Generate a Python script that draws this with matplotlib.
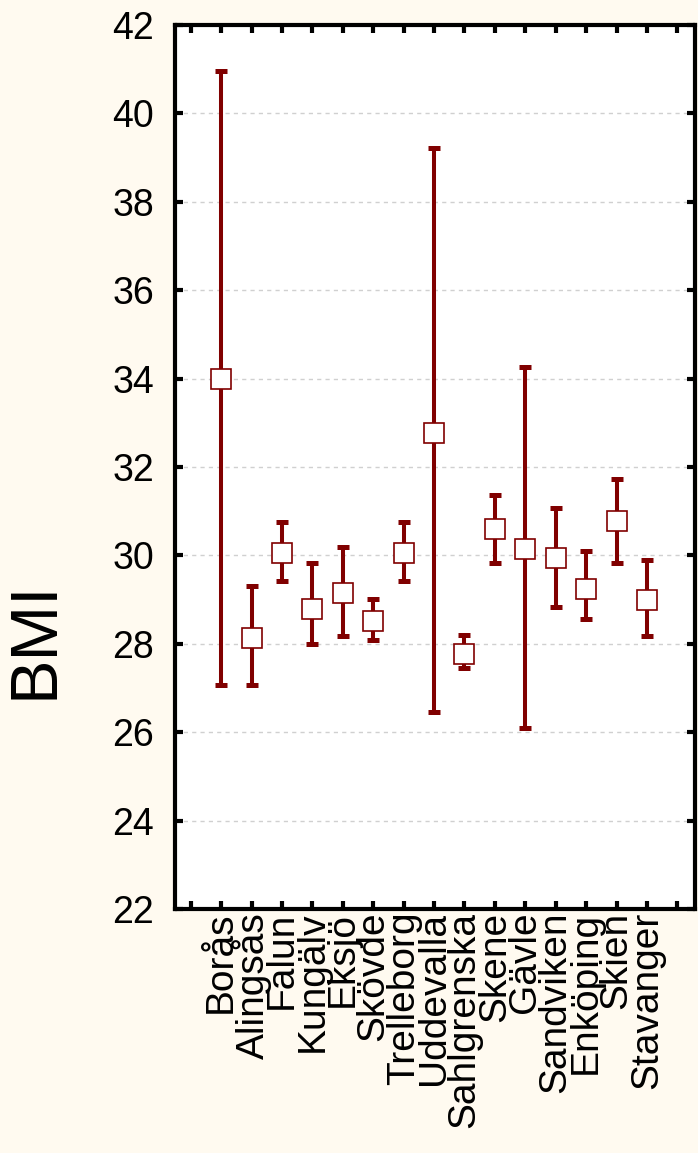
import numpy as np
import matplotlib
matplotlib.use("Agg")
import matplotlib.pyplot as plt

plt.rcParams['font.family'] = ['Liberation Sans', 'DejaVu Sans']

# data
sites = ["Borås", "Alingsås", "Falun", "Kungälv", "Eksjö", "Skövde", "Trelleborg",
         "Uddevalla", "Sahlgrenska", "Skene", "Gävle", "Sandviken", "Enköping",
         "Skien", "Stavanger"]
bmi_mean = [34.0, 28.14, 30.05, 28.79, 29.15, 28.52, 30.05, 32.78, 27.78, 30.6,
            30.14, 29.95, 29.25, 30.78, 29.0]
bmi_upper = [40.96, 29.31, 30.75, 29.82, 30.2, 29.02, 30.75, 39.22, 28.2, 31.36,
             34.27, 31.08, 30.1, 31.73, 29.9]
bmi_lower = [27.07, 27.07, 29.43, 28.0, 28.18, 28.09, 29.43, 26.46, 27.45, 29.82,
             26.09, 28.84, 28.57, 29.82, 28.18]
y_ticks = [22, 24, 26, 28, 30, 32, 34, 36, 38, 40, 42]

dark_red = "#800000"
bg = "#fffaf0"

x = np.arange(1, len(sites) + 1)
mean = np.array(bmi_mean)
err = [mean - np.array(bmi_lower), np.array(bmi_upper) - mean]

fig = plt.figure(figsize=(6.98, 11.53), dpi=100, facecolor=bg)
ax = fig.add_axes([175 / 698, 1 - 909 / 1153, 520 / 698, 884 / 1153])
ax.set_facecolor("white")

ax.errorbar(x, mean, yerr=err, fmt="none", ecolor=dark_red, elinewidth=2.9,
            capsize=4, capthick=3.6, zorder=3)
ax.plot(x, mean, "s", ms=14.5, mfc="white", mec=dark_red, mew=1.2, zorder=4)

ax.set_xlim(-0.52, 16.58)
ax.set_ylim(22, 42)
ax.set_yticks(y_ticks)
ax.set_xticks(np.arange(0, 17))
ax.set_xticklabels([""] + sites + [""], rotation=90, ha="center", va="top",
                   fontsize=28)

ax.yaxis.grid(True, linestyle=(0, (3, 3)), color="#d0d0d0", linewidth=1)
ax.set_axisbelow(True)

for s in ax.spines.values():
    s.set_linewidth(3)
ax.tick_params(axis="both", direction="in", width=3, length=6,
               top=True, right=True, labelsize=27)
ax.tick_params(axis="y", pad=15)
ax.tick_params(axis="x", pad=2, labelsize=28)

fig.text(36 / 698, 1 - 640 / 1153, "BMI", rotation=90, ha="center", va="center",
         fontsize=48)

fig.savefig("out.png", dpi=100, facecolor=bg)
